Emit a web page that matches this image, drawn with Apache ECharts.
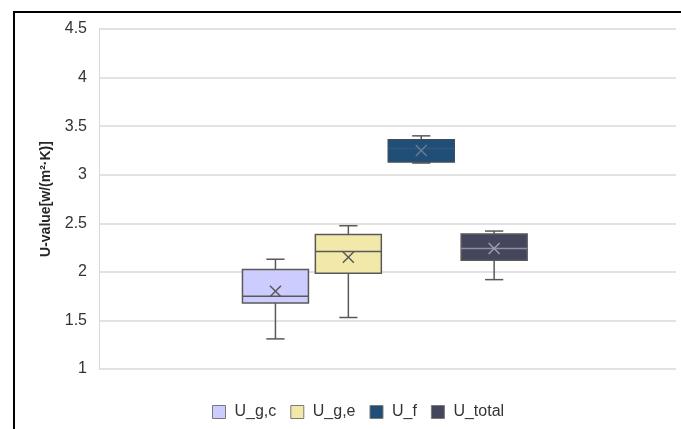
<!DOCTYPE html>
<html>
<head>
<meta charset="utf-8">
<script src="https://cdn.jsdelivr.net/npm/echarts@6/dist/echarts.min.js"></script>
<style>
  html, body { margin: 0; padding: 0; background: #ffffff; }
  #chart { width: 681px; height: 429px; }
</style>
</head>
<body>
<div id="chart"></div>
<script>
// U-value distributions (box: min, Q1, median, Q3, max; plus mean)
const categories   = ['U_g,c', 'U_g,e', 'U_f', 'U_total'];
const minValues    = [1.31, 1.53, 3.12, 1.92];
const q1Values     = [1.68, 1.985, 3.13, 2.12];
const medianValues = [1.75, 2.21, 3.27, 2.24];
const q3Values     = [2.025, 2.385, 3.36, 2.39];
const maxValues    = [2.13, 2.475, 3.40, 2.42];
const meanValues   = [1.80, 2.15, 3.25, 2.24];

// y axis scale
const yMin = 1;
const yMax = 4.5;
const yStep = 0.5;

const fillColors   = ['#ccccff', '#f2e8a9', '#1f4e79', '#44465e'];
const borderColors = ['#595959', '#595959', '#3b4c5e', '#595959'];
const medianColors = ['#595959', '#595959', '#35557a', '#8e8fa0'];
const meanColors   = ['#595959', '#595959', '#6a7c90', '#9c9dae'];

function makeRenderer(idx) {
  return function (params, api) {
    const x = api.value(0);
    const lo = api.coord([x, api.value(1)]);
    const q1 = api.coord([x, api.value(2)]);
    const md = api.coord([x, api.value(3)]);
    const q3 = api.coord([x, api.value(4)]);
    const hi = api.coord([x, api.value(5)]);
    const mn = api.coord([x, api.value(6)]);
    const band = api.size([1, 0])[0];
    const bw = band * 0.905;
    const cw = band * 0.25;
    const cx = lo[0];
    const stroke = { stroke: '#595959', lineWidth: 1.5 };
    const m = 5.5;
    return {
      type: 'group',
      children: [
        { type: 'line', shape: { x1: cx, y1: q3[1], x2: cx, y2: hi[1] }, style: stroke },
        { type: 'line', shape: { x1: cx - cw / 2, y1: hi[1], x2: cx + cw / 2, y2: hi[1] }, style: stroke },
        { type: 'line', shape: { x1: cx, y1: q1[1], x2: cx, y2: lo[1] }, style: stroke },
        { type: 'line', shape: { x1: cx - cw / 2, y1: lo[1], x2: cx + cw / 2, y2: lo[1] }, style: stroke },
        {
          type: 'rect',
          shape: { x: cx - bw / 2, y: q3[1], width: bw, height: q1[1] - q3[1] },
          style: { fill: fillColors[idx], stroke: borderColors[idx], lineWidth: 1.5 }
        },
        {
          type: 'line',
          shape: { x1: cx - bw / 2, y1: md[1], x2: cx + bw / 2, y2: md[1] },
          style: { stroke: medianColors[idx], lineWidth: 1.5 }
        },
        {
          type: 'line',
          shape: { x1: mn[0] - m, y1: mn[1] - m, x2: mn[0] + m, y2: mn[1] + m },
          style: { stroke: meanColors[idx], lineWidth: 1.5 }
        },
        {
          type: 'line',
          shape: { x1: mn[0] - m, y1: mn[1] + m, x2: mn[0] + m, y2: mn[1] - m },
          style: { stroke: meanColors[idx], lineWidth: 1.5 }
        }
      ]
    };
  };
}

const series = categories.map(function (name, i) {
  return {
    name: name,
    type: 'custom',
    xAxisIndex: 1,
    yAxisIndex: 1,
    itemStyle: { color: fillColors[i] },
    encode: { x: 0, y: [1, 2, 3, 4, 5, 6] },
    data: [[i, minValues[i], q1Values[i], medianValues[i], q3Values[i], maxValues[i], meanValues[i]]],
    renderItem: makeRenderer(i)
  };
});

const chart = echarts.init(document.getElementById('chart'), null, { renderer: 'canvas' });
chart.setOption({
  animation: false,
  textStyle: { fontFamily: 'Liberation Sans, Arial, sans-serif' },
  graphic: [{
    type: 'rect',
    silent: true,
    shape: { x: 14, y: 12, width: 720, height: 500 },
    style: { fill: 'none', stroke: '#000000', lineWidth: 2 }
  }],
  grid: [
    { left: 99, right: 5, top: 29, bottom: 60 },
    { left: 239, width: 291.6, top: 29, bottom: 60 }
  ],
  legend: {
    left: 212,
    top: 404,
    padding: 0,
    itemWidth: 13,
    itemHeight: 13,
    itemGap: 14,
    icon: 'rect',
    itemStyle: { borderColor: '#7a7a7a', borderWidth: 1 },
    textStyle: { fontSize: 16, color: '#333333', padding: [0, 0, 0, 4] },
    data: categories
  },
  xAxis: [
    { type: 'category', gridIndex: 0, data: [''], show: false },
    { type: 'category', gridIndex: 1, data: categories, show: false }
  ],
  yAxis: [
    {
      type: 'value',
      gridIndex: 0,
      min: yMin,
      max: yMax,
      interval: yStep,
      name: 'U-value[w/(m²·K)]',
      nameLocation: 'middle',
      nameGap: 46,
      nameTextStyle: { fontSize: 14, fontWeight: 'bold', color: '#262626' },
      axisLine: { show: true, lineStyle: { color: '#d9d9d9', width: 1 } },
      axisTick: { show: false },
      axisLabel: { fontSize: 16, color: '#333333', margin: 12 },
      splitLine: { show: true, lineStyle: { color: '#d9d9d9', width: 1.5 } }
    },
    {
      type: 'value',
      gridIndex: 1,
      min: yMin,
      max: yMax,
      interval: yStep,
      show: false,
      splitLine: { show: false }
    }
  ],
  series: series
});
</script>
</body>
</html>
